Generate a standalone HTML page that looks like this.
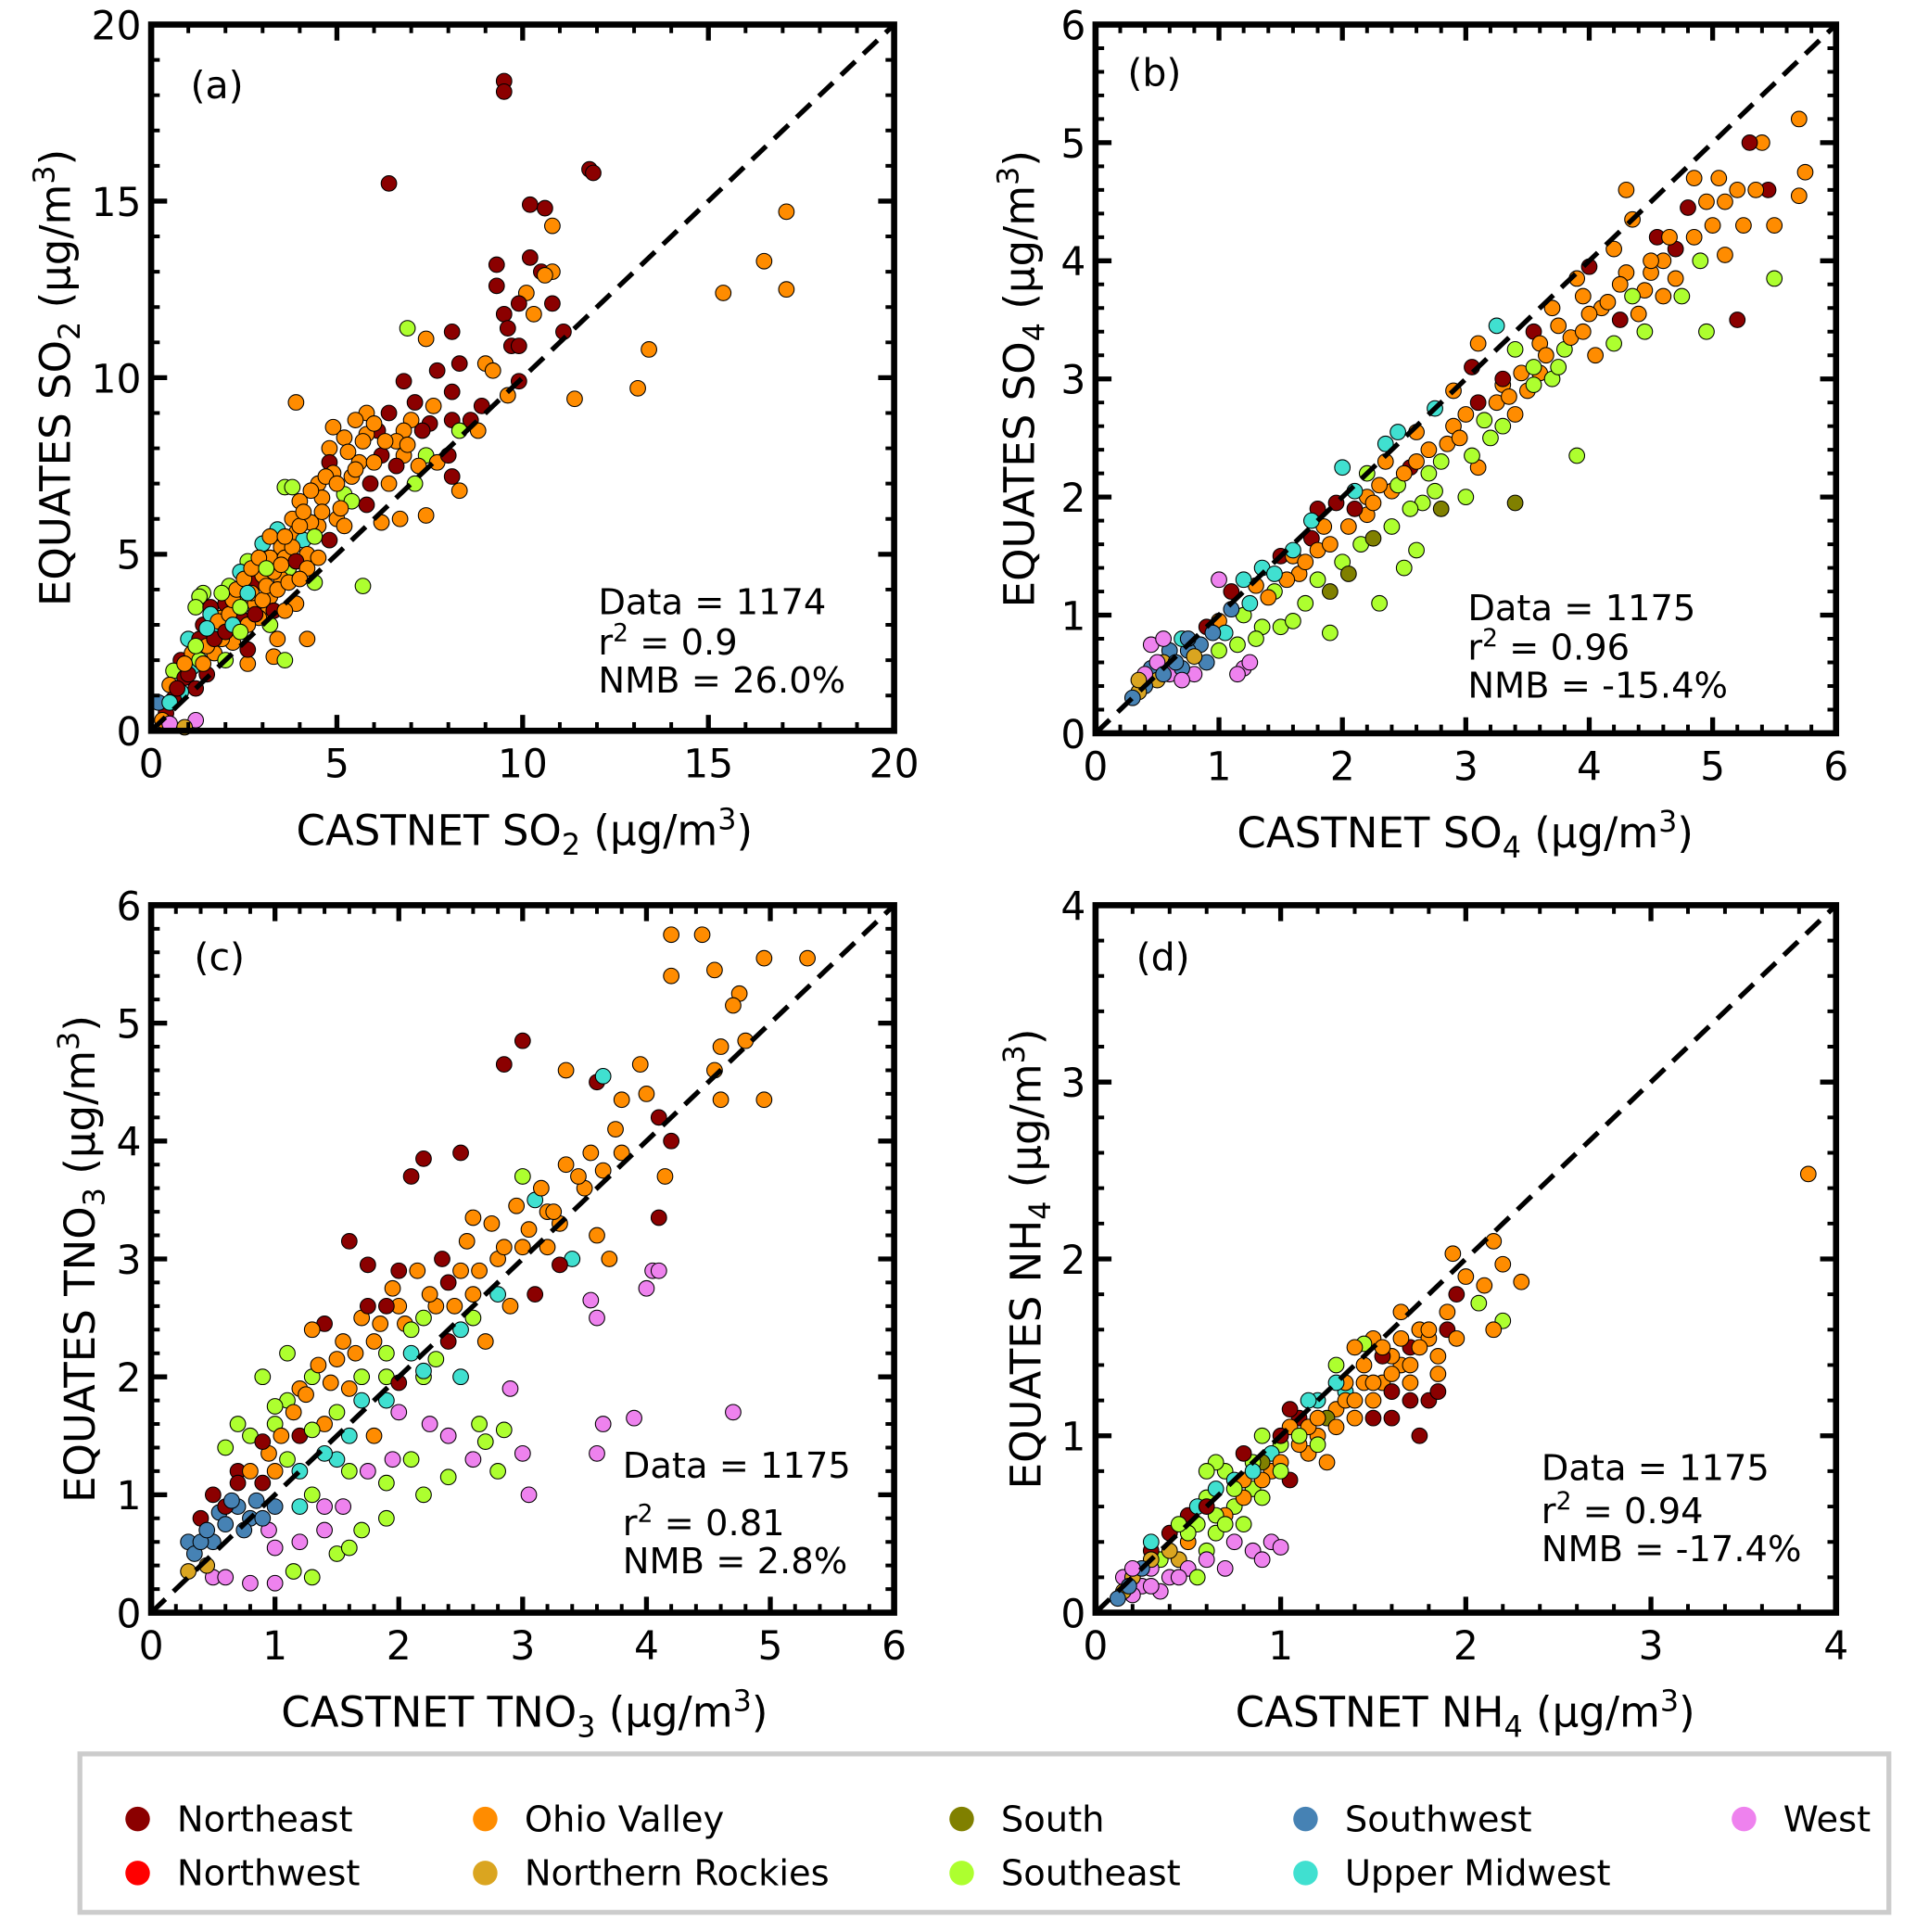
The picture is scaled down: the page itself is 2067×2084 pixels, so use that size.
<!DOCTYPE html>
<html><head><meta charset="utf-8">
<style>
html,body{margin:0;padding:0;background:#fff;}
svg{display:block;font-family:"DejaVu Sans","Liberation Sans",sans-serif;}
</style></head>
<body>
<svg id="chart" width="2067" height="2084" viewBox="0 0 1560 1573" xmlns="http://www.w3.org/2000/svg">
<g id="legend">
<rect x="65" y="1428" width="1473" height="129" fill="#fff" stroke="#cccccc" stroke-width="4"/>
</g>
</svg>
<script>
const regionNames = ["Northeast","Northwest","Ohio Valley","Northern Rockies","South","Southeast","Southwest","Upper Midwest","West"];
const regionColors = ["#8b0000","#ff0000","#ff8c00","#daa520","#808000","#adff2f","#4682b4","#40e0d0","#ee82ee"];

const ptsA = [[9.5,18.4,0],[9.5,18.1,0],[6.4,15.5,0],[11.8,15.9,0],[11.9,15.8,0],[10.2,14.9,0],[10.6,14.8,0],[10.8,14.3,2],[17.1,14.7,2],[16.5,13.3,2],[17.1,12.5,2],[15.4,12.4,2],[13.4,10.8,2],[13.1,9.7,2],[11.4,9.4,2],[9.3,13.2,0],[9.3,12.6,0],[10.2,13.4,0],[10.5,13.0,0],[10.8,13.0,2],[10.6,12.9,2],[10.1,12.4,2],[9.9,12.1,0],[10.8,12.1,0],[10.3,11.8,2],[9.5,11.8,0],[9.6,11.4,0],[9.7,10.9,0],[9.9,10.9,0],[11.1,11.3,0],[8.1,11.3,0],[7.4,11.1,2],[6.9,11.4,5],[8.3,10.4,0],[9.0,10.4,2],[9.2,10.2,2],[7.7,10.2,0],[6.8,9.9,0],[8.1,9.6,0],[9.9,9.9,0],[9.6,9.5,2],[3.9,9.3,2],[7.1,9.3,0],[7.6,9.2,2],[8.9,9.2,0],[6.4,9.0,0],[5.8,9.0,2],[5.5,8.8,2],[4.9,8.6,2],[7.0,8.8,2],[7.5,8.7,0],[8.1,8.8,0],[8.6,8.8,0],[8.8,8.5,2],[8.3,8.5,5],[6.1,8.5,0],[6.8,8.5,2],[7.3,8.5,0],[5.8,8.4,2],[5.2,8.3,2],[4.8,8.0,2],[5.6,7.6,2],[6.2,7.8,0],[6.8,7.8,2],[7.4,7.8,5],[7.7,7.6,2],[8.0,7.8,0],[8.1,7.2,0],[8.3,6.8,2],[6.4,7.0,2],[7.1,7.0,5],[7.4,6.1,2],[6.7,6.0,2],[6.2,5.9,2],[5.7,4.1,5],[4.8,7.6,0],[4.5,7.0,2],[3.6,6.9,5],[3.8,6.9,5],[4.6,6.6,2],[4.0,6.5,2],[5.2,6.7,5],[5.4,6.5,5],[5.0,6.0,2],[4.5,5.8,2],[3.4,5.7,7],[3.9,5.6,2],[3.5,5.2,2],[4.1,5.4,7],[3.0,5.3,7],[3.2,4.9,2],[2.6,4.8,5],[3.7,4.6,5],[4.4,4.2,5],[2.4,4.5,7],[2.8,4.2,0],[2.1,4.1,5],[2.5,3.8,2],[3.2,3.8,2],[3.9,3.6,2],[1.4,3.9,5],[1.3,3.8,5],[1.2,3.5,5],[1.6,3.5,0],[1.9,3.2,2],[2.4,3.2,0],[3.0,3.3,2],[1.4,3.0,0],[1.8,2.9,7],[2.3,2.9,2],[3.2,3.0,5],[3.4,2.6,2],[4.2,2.6,2],[1.0,2.6,7],[1.3,2.6,0],[1.7,2.2,2],[2.0,2.0,5],[2.6,1.9,2],[3.3,2.1,2],[3.6,2.0,5],[0.8,2.0,0],[1.1,1.8,7],[0.6,1.7,5],[0.9,1.5,0],[0.5,1.3,2],[1.2,1.2,0],[0.8,1.1,7],[0.6,0.9,0],[0.4,0.5,0],[0.3,0.3,2],[1.2,0.3,8],[0.5,0.2,8],[0.9,0.1,3],[0.2,0.8,6],[1.5,1.6,0],[2.2,2.5,2],[2.8,3.6,2],[3.5,4.3,2],[4.2,5.0,2],[2.0,3.6,0],[2.6,2.3,0],[1.6,3.3,7],[3.0,4.4,2],[3.6,4.9,2],[4.3,5.9,2],[2.7,3.9,2],[3.3,4.5,2],[3.8,5.2,2],[2.9,3.2,2],[1.9,2.6,2],[4.9,7.3,2],[5.4,7.2,2],[6.0,7.6,2],[6.6,8.2,2],
[1.0,1.6,0],[1.1,2.2,2],[1.3,2.0,5],[1.5,2.4,2],[1.7,2.6,0],[1.8,3.1,2],[2.0,2.8,0],[2.1,3.3,2],[2.2,3.7,2],[2.3,4.0,2],[2.4,3.5,5],[2.5,4.3,2],[2.6,3.0,2],[2.7,4.6,2],[2.8,3.3,0],[2.9,4.9,2],[3.0,3.7,2],[3.1,4.1,2],[3.2,5.5,2],[3.3,3.4,0],[3.4,4.0,2],[3.5,4.7,2],[3.6,5.5,2],[3.7,4.2,2],[3.8,6.0,2],[3.9,4.8,0],[4.0,5.8,2],[4.1,6.2,2],[4.2,4.6,2],[4.3,6.8,2],[4.4,5.5,5],[4.6,6.2,2],[4.7,7.2,2],[4.8,5.4,0],[5.0,7.0,2],[5.1,6.3,2],[5.3,7.9,2],[5.5,7.4,2],[5.7,8.2,2],[5.9,7.0,0],[6.0,8.7,2],[6.3,8.2,2],[6.6,7.5,0],[6.9,8.1,2],[7.2,7.5,2],[1.5,2.9,7],[2.2,3.0,7],[2.6,3.9,7],[3.1,4.6,5],[1.2,2.4,5],[1.9,3.9,5],[2.4,2.8,5],[0.7,1.2,0],[0.5,0.8,7],[0.9,1.9,2],[1.4,1.9,2],[3.6,3.4,2],[4.0,4.3,2],[4.5,4.9,2],[5.2,5.8,2],[5.8,6.4,0]];

const ptsB = [[5.7,5.2,2],[5.4,5.0,2],[5.3,5.0,0],[5.75,4.75,2],[5.7,4.55,2],[5.45,4.6,0],[5.2,4.6,2],[5.05,4.7,2],[4.85,4.7,2],[4.3,4.6,2],[4.35,4.35,2],[5.5,4.3,2],[5.5,3.85,5],[5.2,3.5,0],[4.95,3.4,5],[4.9,4.0,5],[5.1,4.05,2],[4.7,4.1,0],[4.5,3.9,2],[4.2,4.1,2],[4.0,3.95,0],[3.9,3.85,2],[4.6,3.7,2],[4.4,3.55,2],[4.75,3.7,5],[4.25,3.5,0],[3.95,3.7,2],[3.7,3.6,2],[3.55,3.4,0],[3.25,3.45,7],[3.4,3.25,5],[3.1,3.3,2],[3.8,3.25,5],[4.05,3.2,2],[3.9,2.35,5],[3.6,3.05,2],[3.3,2.95,2],[3.05,3.1,0],[2.9,2.9,2],[2.75,2.75,7],[2.6,2.55,2],[2.45,2.55,7],[2.9,2.6,2],[3.1,2.8,0],[3.5,2.9,2],[3.4,2.7,2],[3.2,2.5,5],[2.8,2.3,5],[3.0,2.0,5],[2.65,1.95,5],[2.4,1.75,5],[2.2,2.2,5],[2.0,2.25,7],[1.95,1.95,0],[2.2,2.0,2],[2.4,2.05,2],[2.15,1.6,5],[1.85,1.75,2],[1.75,1.65,0],[2.0,1.45,5],[1.9,1.2,4],[1.7,1.1,5],[1.9,0.85,5],[2.3,1.1,5],[1.5,1.5,0],[1.65,1.35,2],[1.35,1.4,7],[1.45,1.2,5],[1.3,1.25,2],[1.2,1.3,7],[1.1,1.2,0],[1.0,0.95,2],[1.2,1.0,5],[1.35,0.9,5],[1.5,0.9,5],[1.15,0.75,5],[1.05,0.85,7],[0.9,0.9,0],[0.85,0.75,6],[0.75,0.7,6],[0.7,0.8,7],[0.6,0.7,6],[0.55,0.6,3],[0.45,0.55,6],[0.5,0.45,3],[0.4,0.4,6],[0.35,0.35,3],[0.3,0.3,6],[0.6,0.5,8],[0.5,0.6,8],[0.45,0.75,8],[0.8,0.5,8],[1.0,1.3,8],[1.2,0.55,8],[1.15,0.5,8],[0.7,0.55,6],[0.9,0.6,6],[0.75,0.8,6],[1.25,0.6,8],[2.5,1.4,5],[2.8,1.9,4],[3.4,1.95,4],[2.6,1.55,5],[3.1,2.25,2],[4.3,3.9,2],[4.55,4.2,0],[4.8,4.45,0],[5.0,4.3,2],[2.7,2.4,2],[3.6,3.3,2],[4.1,3.6,2],[4.6,4.0,2],[3.3,3.0,0],[2.2,1.85,2],[1.6,1.5,2],[2.55,2.25,0],[3.75,3.45,2],[4.45,3.75,2],[5.1,4.5,2],[2.35,2.3,2],[1.8,1.9,0],
[1.4,1.15,2],[1.55,1.3,2],[1.7,1.45,2],[1.8,1.55,2],[1.9,1.6,2],[2.05,1.75,2],[2.1,1.9,0],[2.25,1.95,2],[2.3,2.1,2],[2.45,2.1,5],[2.5,2.2,2],[2.6,2.3,2],[2.7,2.2,5],[2.85,2.45,2],[2.95,2.5,2],[3.0,2.7,2],[3.15,2.65,5],[3.25,2.8,2],[3.35,2.85,2],[3.45,3.05,2],[3.55,3.1,5],[3.65,3.2,2],[3.7,3.0,5],[3.85,3.35,2],[3.95,3.4,2],[4.0,3.55,2],[4.15,3.65,2],[4.25,3.8,2],[4.35,3.7,5],[4.5,4.0,2],[4.65,4.2,2],[4.7,3.85,2],[4.85,4.2,2],[4.95,4.5,2],[5.25,4.3,2],[5.35,4.6,2],[1.25,1.1,7],[1.45,1.35,7],[1.6,1.55,7],[1.75,1.8,7],[2.1,2.05,7],[2.35,2.45,7],[1.1,1.05,6],[0.95,0.85,6],[0.65,0.6,6],[0.55,0.5,6],[0.8,0.65,3],[1.0,0.7,5],[1.3,0.8,5],[1.6,0.95,5],[1.8,1.3,5],[2.05,1.35,4],[2.25,1.65,4],[2.55,1.9,5],[2.75,2.05,5],[3.05,2.35,5],[3.3,2.6,5],[3.55,2.95,5],[3.75,3.1,5],[4.2,3.3,5],[4.45,3.4,5],[0.4,0.5,8],[0.55,0.8,8],[0.7,0.45,8],[0.35,0.45,3]];

const ptsC = [[4.2,5.75,2],[4.45,5.75,2],[4.2,5.4,2],[4.55,5.45,2],[4.75,5.25,2],[4.95,5.55,2],[5.3,5.55,2],[4.7,5.15,2],[4.6,4.8,2],[4.55,4.6,2],[4.8,4.85,2],[4.6,4.35,2],[4.95,4.35,2],[3.0,4.85,0],[2.85,4.65,0],[3.35,4.6,2],[3.6,4.5,0],[3.65,4.55,7],[3.95,4.65,2],[4.0,4.4,2],[3.8,4.35,2],[4.1,4.2,0],[4.15,3.7,2],[4.1,3.35,0],[4.05,2.9,8],[4.1,2.9,8],[4.0,2.75,8],[3.55,2.65,8],[3.6,2.5,8],[3.65,1.6,8],[3.6,1.35,8],[3.9,1.65,8],[4.7,1.7,8],[3.0,1.35,8],[3.05,1.0,8],[2.9,1.9,8],[2.6,1.3,8],[2.8,1.2,5],[2.85,1.55,5],[2.7,1.45,5],[2.2,1.0,5],[1.9,0.8,5],[1.7,0.7,5],[1.5,0.5,5],[1.3,0.3,5],[1.15,0.35,5],[1.0,0.25,8],[0.8,0.25,8],[0.5,0.3,8],[2.3,2.6,2],[2.5,3.9,0],[2.2,3.85,0],[1.6,3.15,0],[2.1,3.7,0],[1.75,2.95,0],[2.0,2.9,0],[2.6,3.35,2],[3.2,3.1,2],[2.8,3.0,2],[3.3,3.3,2],[3.0,3.7,5],[3.35,3.8,2],[3.1,3.5,7],[2.5,2.9,2],[2.2,2.5,5],[1.4,2.45,0],[1.3,2.4,2],[1.1,2.2,5],[0.9,2.0,5],[1.1,1.8,5],[1.5,2.15,2],[1.8,2.3,2],[1.9,2.0,5],[2.1,2.2,7],[1.7,1.8,7],[1.4,1.6,2],[1.2,1.5,0],[0.8,1.5,5],[0.6,1.4,5],[0.5,1.0,0],[0.4,0.8,0],[0.55,0.85,6],[0.7,0.9,6],[0.8,0.8,6],[0.3,0.6,6],[0.35,0.5,6],[0.5,0.6,6],[0.45,0.4,3],[0.3,0.35,3],[0.6,0.3,8],[1.2,0.9,7],[1.5,1.3,7],[1.8,1.5,2],[2.0,1.7,8],[2.25,1.6,8],[2.5,2.0,7],[2.7,2.3,2],[2.9,2.6,2],[3.1,2.7,0],[3.4,3.0,7],[3.6,3.2,2],[3.7,3.0,2],[3.5,3.6,2],[3.3,2.95,0],[2.4,2.3,0],[2.0,2.6,2],[1.0,1.2,2],[0.9,1.1,0],[1.6,1.2,5],[1.3,1.0,5],[0.95,0.7,8],[1.4,0.9,8],[1.3,2.0,5],[1.7,2.5,2],[1.9,2.6,0],[4.2,4.0,0],[2.6,2.7,2],[3.0,3.1,2],[3.8,3.9,2],[1.6,1.9,2],[2.2,2.0,5],[1.0,1.6,5],[0.7,1.2,0],[2.4,2.8,0],[3.2,3.4,2],[1.2,1.9,2],
[0.6,0.9,0],[0.7,1.1,0],[0.8,1.2,2],[0.95,1.35,2],[1.05,1.5,2],[1.15,1.7,2],[1.25,1.85,2],[1.35,2.1,2],[1.45,1.95,2],[1.55,2.3,2],[1.65,2.2,2],[1.75,2.6,0],[1.85,2.45,2],[1.95,2.75,2],[2.05,2.45,2],[2.15,2.9,2],[2.25,2.7,2],[2.35,3.0,0],[2.45,2.6,2],[2.55,3.15,2],[2.65,2.9,2],[2.75,3.3,2],[2.85,3.1,2],[2.95,3.45,2],[3.05,3.25,2],[3.15,3.6,2],[3.25,3.4,2],[3.45,3.7,2],[3.55,3.9,2],[3.65,3.75,2],[3.75,4.1,2],[1.1,1.3,5],[1.3,1.55,5],[1.5,1.7,5],[1.7,2.0,5],[1.9,2.2,5],[2.1,2.4,5],[2.3,2.15,5],[2.6,2.5,5],[2.8,2.7,7],[1.2,1.2,7],[1.4,1.35,7],[1.6,1.5,7],[1.9,1.8,7],[2.2,2.05,7],[2.5,2.4,7],[0.4,0.6,6],[0.45,0.7,6],[0.6,0.75,6],[0.65,0.95,6],[0.75,0.7,6],[0.85,0.95,6],[0.9,0.8,6],[1.0,0.9,6],[1.0,0.55,8],[1.2,0.6,8],[1.4,0.7,8],[1.55,0.9,8],[1.75,1.2,8],[1.95,1.3,8],[2.4,1.5,8],[1.6,0.55,5],[1.9,1.1,5],[2.1,1.3,5],[2.4,1.15,5],[2.65,1.6,5],[0.9,1.45,0],[1.0,1.75,5],[0.7,1.6,5],[2.0,1.95,0]];

const ptsD = [[3.85,2.48,2],[2.3,1.87,2],[2.15,2.1,2],[2.2,1.97,2],[2.1,1.85,2],[1.93,2.03,2],[2.0,1.9,2],[2.2,1.65,5],[2.15,1.6,2],[2.07,1.75,5],[1.95,1.8,0],[1.75,1.6,2],[1.7,1.5,0],[1.65,1.4,2],[1.5,1.55,2],[1.45,1.52,5],[1.7,1.3,2],[1.8,1.2,0],[1.75,1.0,0],[1.6,1.1,0],[1.5,1.2,2],[1.35,1.25,7],[1.3,1.15,2],[1.2,1.0,2],[1.4,1.1,2],[1.55,1.3,2],[1.3,1.4,5],[1.1,1.1,0],[1.0,0.95,5],[0.9,1.0,5],[0.95,0.8,2],[1.15,0.9,2],[1.05,0.75,0],[1.25,0.85,2],[0.85,0.7,5],[0.75,0.6,5],[0.7,0.8,5],[0.8,0.5,5],[0.6,0.65,5],[0.55,0.5,5],[0.5,0.4,2],[0.6,0.35,5],[0.45,0.3,3],[0.35,0.3,5],[0.3,0.25,8],[0.25,0.15,8],[0.2,0.1,8],[0.15,0.2,8],[0.35,0.12,8],[0.4,0.2,8],[0.5,0.25,8],[0.6,0.3,8],[0.7,0.25,8],[0.85,0.35,8],[0.95,0.4,8],[1.0,0.37,8],[0.55,0.2,5],[0.65,0.45,5],[0.4,0.45,0],[0.5,0.55,0],[0.3,0.35,0],[0.2,0.2,3],[0.15,0.12,3],[0.12,0.08,6],[0.3,0.4,7],[0.55,0.6,7],[0.75,0.75,7],[0.95,0.9,7],[1.2,1.2,7],[1.05,1.05,2],[1.4,1.5,2],[1.6,1.45,2],[1.85,1.35,2],[1.9,1.6,0],[1.25,1.1,4],[0.9,0.85,4],[1.0,1.0,0],[1.65,1.7,2],[1.45,1.3,2],[1.35,1.2,2],[1.55,1.45,0],[1.8,1.55,2],[1.15,1.05,2],[0.8,0.75,2],
[1.3,1.05,2],[1.35,1.3,2],[1.4,1.2,2],[1.45,1.4,2],[1.5,1.3,2],[1.55,1.5,2],[1.6,1.35,2],[1.65,1.55,2],[1.7,1.4,2],[1.75,1.5,2],[1.8,1.6,2],[1.85,1.45,2],[1.9,1.7,2],[1.95,1.55,2],[1.6,1.25,0],[1.5,1.1,0],[1.7,1.2,0],[1.85,1.25,0],[1.2,1.1,2],[1.1,0.95,2],[1.0,0.85,2],[0.9,0.75,2],[0.8,0.65,2],[0.7,0.55,2],[1.2,0.95,5],[1.1,1.0,5],[1.0,0.8,5],[0.9,0.65,5],[0.85,0.85,5],[0.75,0.7,5],[0.65,0.55,5],[0.7,0.5,5],[0.65,0.85,5],[0.6,0.8,5],[0.5,0.45,5],[0.45,0.5,5],[1.05,1.15,0],[0.8,0.9,0],[0.6,0.6,0],[1.3,1.3,7],[1.15,1.2,7],[0.85,0.8,7],[0.65,0.7,7],[0.4,0.35,3],[0.3,0.3,3],[0.25,0.25,6],[0.18,0.15,6],[0.45,0.2,8],[0.3,0.15,8],[0.75,0.4,8],[0.9,0.3,8],[0.2,0.25,8]];

const ticksA = [0,5,10,15,20];
const ticksB = [0,1,2,3,4,5,6];
const ticksC = [0,1,2,3,4,5,6];
const ticksD = [0,1,2,3,4];

const NS = "http://www.w3.org/2000/svg";
const svg = document.getElementById("chart");
function mk(tag, attrs, parent){
  const e = document.createElementNS(NS, tag);
  for (const k in attrs) e.setAttribute(k, attrs[k]);
  (parent||svg).appendChild(e);
  return e;
}

const panels = [
  {id:"a", pts:ptsA, ticks:ticksA, max:20, minor:1, L:123, R:728, T:20, B:595, lab:[155,80], xl:[427,"CASTNET ","SO","2"], yl:[45,"EQUATES ","SO","2"], st:[487,500,"1174","0.9","26.0%",33]},
  {id:"b", pts:ptsB, ticks:ticksB, max:6, minor:0.2, L:892, R:1495, T:20, B:597, lab:[918,70], xl:[1193,"CASTNET ","SO","4"], yl:[830,"EQUATES ","SO","4"], st:[1195,505,"1175","0.96","-15.4%",32]},
  {id:"c", pts:ptsC, ticks:ticksC, max:6, minor:0.2, L:123, R:728, T:737, B:1313, lab:[158,790], xl:[427,"CASTNET ","TNO","3"], yl:[65,"EQUATES ","TNO","3"], st:[507,1203,"1175","0.81","2.8%",47]},
  {id:"d", pts:ptsD, ticks:ticksD, max:4, minor:0.2, L:892, R:1495, T:737, B:1313, lab:[925,790], xl:[1193,"CASTNET ","NH","4"], yl:[835,"EQUATES ","NH","4"], st:[1255,1205,"1175","0.94","-17.4%",35]}
];

panels.forEach(p => {
  const g = mk("g", {});
  
  
  const sx = v => p.L + (v / p.max) * (p.R - p.L);
  const sy = v => p.B - (v / p.max) * (p.B - p.T);
  p.pts.forEach(d => {
    const c = mk("circle", {cx:sx(d[0]), cy:sy(d[1]), r:6.3, fill:regionColors[d[2]], stroke:"#000", "stroke-width":0.8}, g);
    
    
  });
  const ln = mk("line", {x1:sx(0), y1:sy(0), x2:sx(p.max), y2:sy(p.max), stroke:"#000", "stroke-width":4, "stroke-dasharray":"16 9"}, g);
  
  
  const nMin = Math.round(p.max / p.minor);
  for (let i = 1; i < nMin; i++) {
    const v = i * p.minor;
    const X = sx(v), Y = sy(v);
    const m = mk("path", {d:`M${X},${p.B}v-7M${X},${p.T}v7M${p.L},${Y}h7M${p.R},${Y}h-7`, stroke:"#000", "stroke-width":3}, g);
    
    
  }
  p.ticks.forEach(v => {
    const X = sx(v), Y = sy(v);
    const m = mk("path", {d:`M${X},${p.B}v-13M${X},${p.T}v13M${p.L},${Y}h13M${p.R},${Y}h-13`, stroke:"#000", "stroke-width":4}, g);
    
    
    const tx = mk("text", {x:X, y:p.B + 38, "font-size":32, "text-anchor":"middle"}, g);
    tx.textContent = v;
    
    
    const ty = mk("text", {x:p.L - 8, y:Y + 12, "font-size":32, "text-anchor":"end"}, g);
    ty.textContent = v;
    
    
  });
  const fr = mk("rect", {x:p.L, y:p.T, width:p.R - p.L, height:p.B - p.T, fill:"none", stroke:"#000", "stroke-width":5}, g);
  
  
  const pl = mk("text", {x:p.lab[0], y:p.lab[1], "font-size":31}, g);
  pl.textContent = "(" + p.id + ")";
  
  
  const xt = mk("text", {x:p.xl[0], y:(p.B + 93), "font-size":34, "text-anchor":"middle"}, g);
  xt.innerHTML = p.xl[1] + p.xl[2] + '<tspan font-size="24" dy="8">' + p.xl[3] + '</tspan><tspan dy="-8"> (µg/m</tspan><tspan font-size="24" dy="-13">3</tspan><tspan dy="13">)</tspan>';
  
  
  const cy = (p.T + p.B) / 2;
  const yt = mk("text", {x:0, y:0, "font-size":34, "text-anchor":"middle", transform:`translate(${p.yl[0]+12},${cy}) rotate(-90)`}, g);
  yt.innerHTML = p.yl[1] + p.yl[2] + '<tspan font-size="24" dy="8">' + p.yl[3] + '</tspan><tspan dy="-8"> (µg/m</tspan><tspan font-size="24" dy="-13">3</tspan><tspan dy="13">)</tspan>';
  
  
  const s = p.st;
  const t1 = mk("text", {x:s[0], y:s[1], "font-size":29}, g);
  t1.textContent = "Data = " + s[2];
  
  
  const t2 = mk("text", {x:s[0], y:s[1] + s[5], "font-size":29}, g);
  t2.innerHTML = 'r<tspan font-size="20" dy="-11">2</tspan><tspan dy="11"> = ' + s[3] + '</tspan>';
  
  
  const t3 = mk("text", {x:s[0], y:s[1] + s[5] + 31, "font-size":29}, g);
  t3.textContent = "NMB = " + s[4];
  
  
});

const legend = document.getElementById("legend");
const legCols = [112, 395, 783, 1063, 1420];
const legRows = [1481, 1525];
const legOrder = [[0,0,0],[1,0,1],[2,1,0],[3,1,1],[4,2,0],[5,2,1],[6,3,0],[7,3,1],[8,4,0]];
legOrder.forEach(o => {
  const x = legCols[o[1]], y = legRows[o[2]];
  const c = mk("circle", {cx:x, cy:y, r:10, fill:regionColors[o[0]]}, legend);
  
  
  const t = mk("text", {x:x + 32, y:y + 10, "font-size":29}, legend);
  t.textContent = regionNames[o[0]];
  
  
});
</script>
</body></html>
